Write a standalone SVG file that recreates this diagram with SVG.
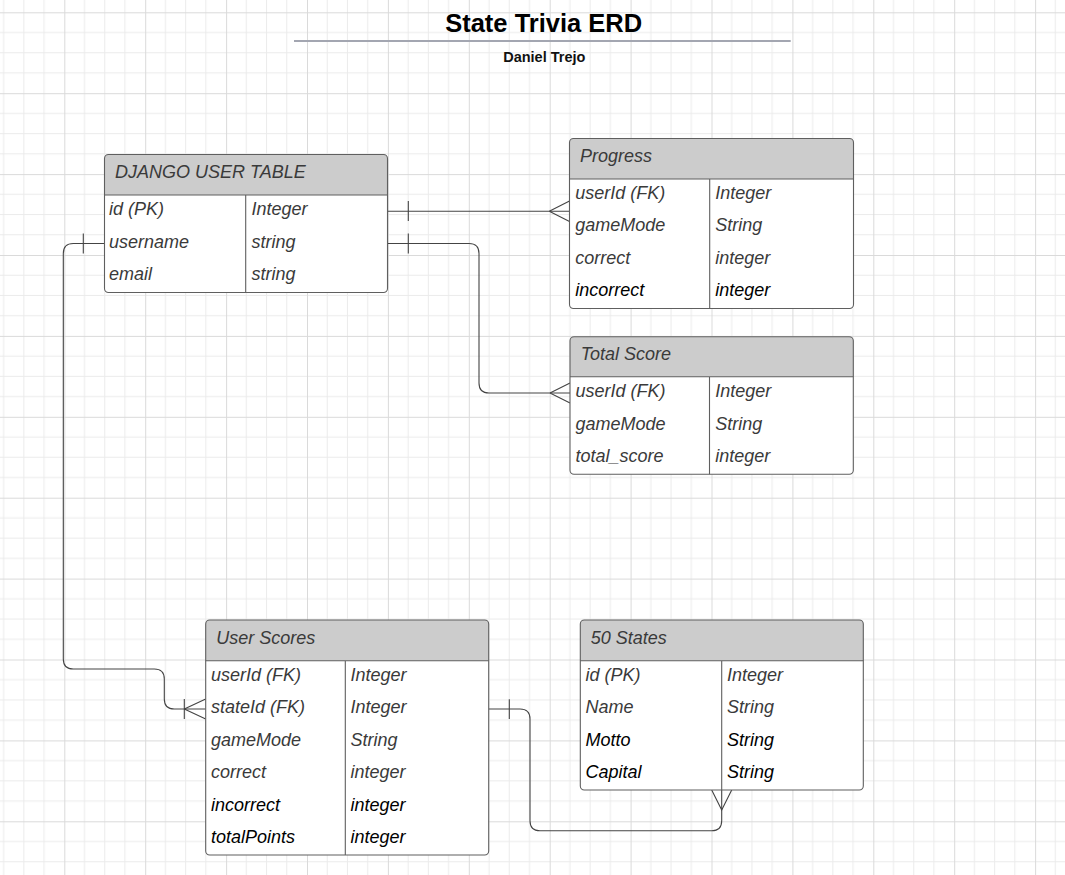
<svg xmlns="http://www.w3.org/2000/svg" width="1065" height="875" viewBox="0 0 1065 875">
<defs>
<pattern id="grid" patternUnits="userSpaceOnUse" x="64.3" y="12.3" width="80.9" height="80.9">
<path d="M20.225,0V80.9M40.45,0V80.9M60.675,0V80.9M0,20.225H80.9M0,40.45H80.9M0,60.675H80.9" stroke="#ebebeb" stroke-width="1" fill="none"/>
<path d="M0.5,0V80.9M0,0.5H80.9" stroke="#dadada" stroke-width="1" fill="none"/>
</pattern>
<style>
.box{fill:#ffffff;stroke:none}
.hdr{fill:#cccccc;stroke:none}
.frame{fill:none;stroke:#5f5f5f;stroke-width:1.1}
.sep{stroke:#5f5f5f;stroke-width:1.1;fill:none}
.ht{font-family:"Liberation Sans",Arial,sans-serif;font-style:italic;font-size:18px;fill:#3a3a3a}
.ft{font-family:"Liberation Sans",Arial,sans-serif;font-style:italic;font-size:18px;fill:#3a3a3a}
.bk{fill:#000000}
.conn{fill:none;stroke:#444444;stroke-width:1.1}
</style>
</defs>
<rect width="1065" height="875" fill="#ffffff"/>
<rect width="1065" height="875" fill="url(#grid)"/>

<g id="title">
<text x="543.7" y="31.7" text-anchor="middle" font-family="Liberation Sans, Arial, sans-serif" font-weight="bold" font-size="25.5" fill="#000">State Trivia ERD</text>
<path d="M294,41H790.7" stroke="#a3a6b1" stroke-width="2"/>
<text x="544.3" y="62.3" text-anchor="middle" font-family="Liberation Sans, Arial, sans-serif" font-weight="bold" font-size="14.5" fill="#111">Daniel Trejo</text>
</g>

<g id="connectors">
<path class="conn" d="M387.5,211.2H569.5"/>
<path class="conn" d="M408.3,201V221M549.3,211.2L569.5,201M549.3,211.2L569.5,221.4"/>
<path class="conn" d="M387.5,243.5H469Q479,243.5 479,253.5V383Q479,393 489,393H570"/>
<path class="conn" d="M408.3,233.5V253.5M550,393L570,383M550,393L570,403"/>
<path class="conn" d="M104.5,243.5H73.3Q63.3,243.5 63.3,253.5V659Q63.3,669 73.3,669H154.3Q164.3,669 164.3,679V699Q164.3,709 174.3,709H205.7"/>
<path class="conn" d="M83.3,233.5V253.5M184.3,699V719M184.3,709L205.7,699M184.3,709L205.7,719"/>
<path class="conn" d="M488.7,709H520Q530,709 530,719V820.7Q530,830.7 540,830.7H711.7Q721.7,830.7 721.7,820.7V790"/>
<path class="conn" d="M509.3,699.3V719M711.7,790L721.7,810L731.7,790"/>
</g>

<g id="django-user-table">
<rect class="box" x="104.5" y="154.5" width="283" height="138" rx="4"/>
<path class="hdr" d="M104.5,195V158.5Q104.5,154.5 108.5,154.5H383.5Q387.5,154.5 387.5,158.5V195Z"/>
<path class="sep" d="M104.5,195H387.5M245.7,195V292.5"/>
<rect class="frame" x="104.5" y="154.5" width="283" height="138" rx="4"/>
<text class="ht" x="115" y="178.3">DJANGO USER TABLE</text>
<text class="ft" x="109" y="215.3">id (PK)</text>
<text class="ft" x="109" y="247.7">username</text>
<text class="ft" x="109" y="280.1">email</text>
<text class="ft" x="251.5" y="215.3">Integer</text>
<text class="ft" x="251.5" y="247.7">string</text>
<text class="ft" x="251.5" y="280.1">string</text>
</g>

<g id="progress">
<rect class="box" x="569.5" y="138.5" width="284" height="170" rx="4"/>
<path class="hdr" d="M569.5,179V142.5Q569.5,138.5 573.5,138.5H849.5Q853.5,138.5 853.5,142.5V179Z"/>
<path class="sep" d="M569.5,179H853.5M709.7,179V308.5"/>
<rect class="frame" x="569.5" y="138.5" width="284" height="170" rx="4"/>
<text class="ht" x="580" y="161.5">Progress</text>
<text class="ft" x="575.3" y="199">userId (FK)</text>
<text class="ft" x="575.3" y="231.4">gameMode</text>
<text class="ft" x="575.3" y="263.7">correct</text>
<text class="ft bk" x="575.3" y="296.1">incorrect</text>
<text class="ft" x="715.3" y="199">Integer</text>
<text class="ft" x="715.3" y="231.4">String</text>
<text class="ft" x="715.3" y="263.7">integer</text>
<text class="ft bk" x="715.3" y="296.1">integer</text>
</g>

<g id="total-score">
<rect class="box" x="570" y="336.7" width="283.3" height="137.6" rx="4"/>
<path class="hdr" d="M570,376.7V340.7Q570,336.7 574,336.7H849.3Q853.3,336.7 853.3,340.7V376.7Z"/>
<path class="sep" d="M570,376.7H853.3M709.5,376.7V474.3"/>
<rect class="frame" x="570" y="336.7" width="283.3" height="137.6" rx="4"/>
<text class="ht" x="580.7" y="360.2">Total Score</text>
<text class="ft" x="575.5" y="397.3">userId (FK)</text>
<text class="ft" x="575.5" y="429.8">gameMode</text>
<text class="ft" x="575.5" y="462.3">total_score</text>
<text class="ft" x="715.2" y="397.3">Integer</text>
<text class="ft" x="715.2" y="429.8">String</text>
<text class="ft" x="715.2" y="462.3">integer</text>
</g>

<g id="user-scores">
<rect class="box" x="205.7" y="620" width="283" height="235" rx="4"/>
<path class="hdr" d="M205.7,660.7V624Q205.7,620 209.7,620H484.7Q488.7,620 488.7,624V660.7Z"/>
<path class="sep" d="M205.7,660.7H488.7M345.3,660.7V855"/>
<rect class="frame" x="205.7" y="620" width="283" height="235" rx="4"/>
<text class="ht" x="216.3" y="643.5">User Scores</text>
<text class="ft" x="211" y="681">userId (FK)</text>
<text class="ft" x="211" y="713.4">stateId (FK)</text>
<text class="ft" x="211" y="745.8">gameMode</text>
<text class="ft" x="211" y="778.2">correct</text>
<text class="ft bk" x="211" y="810.6">incorrect</text>
<text class="ft bk" x="211" y="843">totalPoints</text>
<text class="ft" x="350.5" y="681">Integer</text>
<text class="ft" x="350.5" y="713.4">Integer</text>
<text class="ft" x="350.5" y="745.8">String</text>
<text class="ft" x="350.5" y="778.2">integer</text>
<text class="ft bk" x="350.5" y="810.6">integer</text>
<text class="ft bk" x="350.5" y="843">integer</text>
</g>

<g id="fifty-states">
<rect class="box" x="580.3" y="620" width="283" height="170" rx="4"/>
<path class="hdr" d="M580.3,660.7V624Q580.3,620 584.3,620H859.3Q863.3,620 863.3,624V660.7Z"/>
<path class="sep" d="M580.3,660.7H863.3M721.7,660.7V790"/>
<rect class="frame" x="580.3" y="620" width="283" height="170" rx="4"/>
<text class="ht" x="590.7" y="643.5">50 States</text>
<text class="ft" x="585.5" y="681">id (PK)</text>
<text class="ft" x="585.5" y="713.4">Name</text>
<text class="ft bk" x="585.5" y="745.8">Motto</text>
<text class="ft bk" x="585.5" y="778.2">Capital</text>
<text class="ft" x="727" y="681">Integer</text>
<text class="ft" x="727" y="713.4">String</text>
<text class="ft bk" x="727" y="745.8">String</text>
<text class="ft bk" x="727" y="778.2">String</text>
</g>
</svg>
